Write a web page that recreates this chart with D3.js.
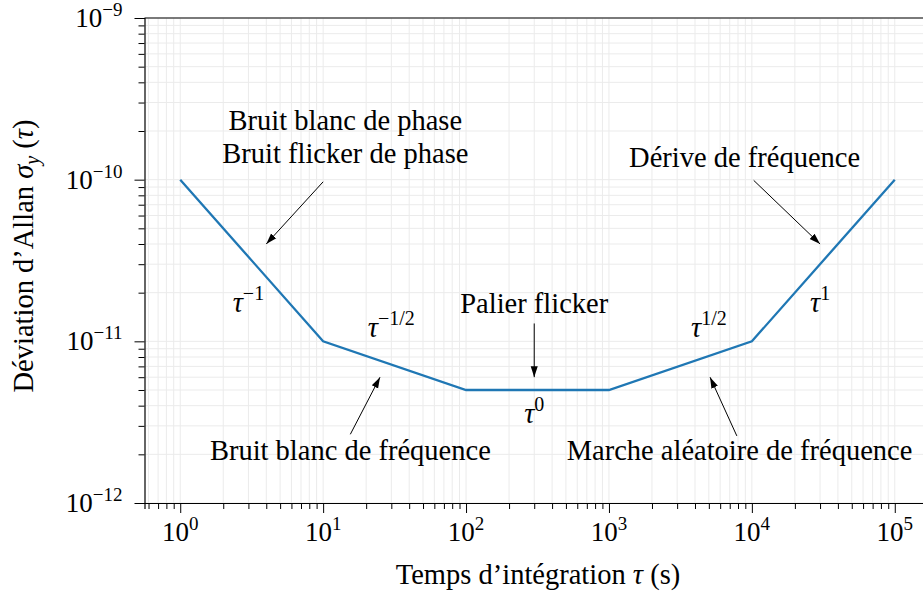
<!DOCTYPE html>
<html>
<head>
<meta charset="utf-8">
<script src="https://cdn.jsdelivr.net/npm/d3@7"></script>
<style>
  body { margin: 0; background: #fff; }
  svg { display: block; }
  svg text { font-family: "Liberation Serif", "Times New Roman", serif; fill: #000; }
  .grid line { stroke: #ebebeb; stroke-width: 1; }
  .txt { font-size: 28.5px; }
  .tick-lbl { font-size: 27px; }
</style>
</head>
<body>
<div id="chart"></div>
<script>
// Allan deviation, piecewise slopes
var tau = [1, 10, 100, 1000, 10000, 100000];
var sigma = [1e-10, 1e-11, 5e-12, 5e-12, 1e-11, 1e-10];

var xTicks = [1, 10, 100, 1000, 10000, 100000];
var xTickExp = ['0', '1', '2', '3', '4', '5'];
var yTicks = [1e-12, 1e-11, 1e-10, 1e-9];
var yTickExp = ['\u221212', '\u221211', '\u221210', '\u22129'];

// slope labels: [x, y, exponent]
var slopeLabels = [
  [3, 1.7e-11, '\u22121'],
  [30, 1.2e-11, '\u22121/2'],
  [300, 3.5e-12, '0'],
  [5000, 1.2e-11, '1/2'],
  [30000, 1.7e-11, '1']
];

// annotations: lines of text, text position, arrow tail, arrow head
var noteText = [
  ['Bruit blanc de phase', 'Bruit flicker de phase'],
  ['D\u00e9rive de fr\u00e9quence'],
  ['Palier flicker'],
  ['Bruit blanc de fr\u00e9quence'],
  ['Marche al\u00e9atoire de fr\u00e9quence']
];
var notePos = [[14.3, 1.82e-10], [8900, 1.37e-10], [300, 1.7e-11], [15.5, 2.1e-12], [8200, 2.1e-12]];
var arrowFrom = [[10, 9.7e-11], [10300, 9.9e-11], [300, 1.29e-11], [15.5, 2.66e-12], [7850, 2.6e-12]];
var arrowTo = [[4, 4e-11], [30000, 4e-11], [300, 6e-12], [25, 6e-12], [5100, 6e-12]];

var W = 923, H = 594;
var margin = {top: 18, left: 144.5};
var plotW = 786, plotH = 485;

var x = d3.scaleLog().domain([Math.pow(10, -0.25), Math.pow(10, 5.25)]).range([margin.left, margin.left + plotW]);
var y = d3.scaleLog().domain([1e-12, 1e-9]).range([margin.top + plotH, margin.top]);

var svg = d3.select('#chart').append('svg')
  .attr('width', W).attr('height', H);

var defs = svg.append('defs');
defs.append('marker')
  .attr('id', 'head')
  .attr('viewBox', '0 0 10 10')
  .attr('refX', 10).attr('refY', 5)
  .attr('markerWidth', 11).attr('markerHeight', 11)
  .attr('markerUnits', 'userSpaceOnUse')
  .attr('orient', 'auto')
  .append('path').attr('d', 'M0,1.8L10,5L0,8.2Z').attr('fill', '#000');

// minor + major ticks
var xAll = x.ticks();
var yAll = y.ticks();

var grid = svg.append('g').attr('class', 'grid');
grid.selectAll('.gx').data(xAll).enter().append('line')
  .attr('x1', function(d) { return x(d); }).attr('x2', function(d) { return x(d); })
  .attr('y1', margin.top).attr('y2', margin.top + plotH);
grid.selectAll('.gy').data(yAll).enter().append('line')
  .attr('x1', margin.left).attr('x2', margin.left + plotW)
  .attr('y1', function(d) { return y(d); }).attr('y2', function(d) { return y(d); });

// curve
var line = d3.line()
  .x(function(d, i) { return x(tau[i]); })
  .y(function(d) { return y(d); });
svg.append('path')
  .datum(sigma)
  .attr('d', line)
  .attr('fill', 'none')
  .attr('stroke', '#1f77b4')
  .attr('stroke-width', 2.3);

// axes
var isMajor = function(d) { return Math.abs(Math.log10(d) - Math.round(Math.log10(d))) < 1e-6; };

var xAxis = svg.append('g').attr('transform', 'translate(0,' + (margin.top + plotH) + ')')
  .call(d3.axisBottom(x).tickValues(xAll).tickSize(6).tickFormat(''));
xAxis.selectAll('.tick line').attr('y2', function(d) { return isMajor(d) ? 10 : 6; });
var yAxis = svg.append('g').attr('transform', 'translate(' + margin.left + ',0)')
  .call(d3.axisLeft(y).tickValues(yAll).tickSize(6).tickFormat(''));
yAxis.selectAll('.tick line').attr('x2', function(d) { return isMajor(d) ? -10 : -6; });
svg.selectAll('.domain').attr('stroke', '#000').attr('stroke-width', 1.2);
svg.selectAll('.tick line').attr('stroke', '#000').attr('stroke-width', 1);

svg.append('line')
  .attr('x1', margin.left).attr('x2', margin.left + plotW)
  .attr('y1', margin.top).attr('y2', margin.top)
  .attr('stroke', '#000').attr('stroke-width', 1.2);

// tick labels
xTicks.forEach(function(t, i) {
  var tx = svg.append('text').attr('class', 'tick-lbl')
    .attr('x', x(t)).attr('y', margin.top + plotH + 38)
    .attr('text-anchor', 'middle');
  tx.append('tspan').text('10');
  tx.append('tspan').attr('dy', -11).attr('font-size', 19).text(xTickExp[i]);
});
yTicks.forEach(function(t, i) {
  var ty = svg.append('text').attr('class', 'tick-lbl')
    .attr('x', margin.left - 22).attr('y', y(t) + 9)
    .attr('text-anchor', 'end');
  ty.append('tspan').text('10');
  ty.append('tspan').attr('dy', -11).attr('font-size', 19).text(yTickExp[i]);
});

// axis titles
var xl = svg.append('text').attr('class', 'txt')
  .attr('x', 538).attr('y', 584).attr('text-anchor', 'middle');
xl.append('tspan').text('Temps d\u2019int\u00e9gration ');
xl.append('tspan').attr('font-style', 'italic').text('\u03c4');
xl.append('tspan').text(' (s)');

var yl = svg.append('text').attr('class', 'txt')
  .attr('transform', 'translate(33,256) rotate(-90)')
  .attr('text-anchor', 'middle');
yl.append('tspan').text('D\u00e9viation d\u2019Allan ');
yl.append('tspan').attr('font-style', 'italic').text('\u03c3');
yl.append('tspan').attr('font-style', 'italic').attr('font-size', 20).attr('dy', 6).text('y');
yl.append('tspan').attr('dy', -6).text(' (');
yl.append('tspan').attr('font-style', 'italic').text('\u03c4');
yl.append('tspan').text(')');

// slope labels
slopeLabels.forEach(function(s) {
  var t = svg.append('text').attr('class', 'txt')
    .attr('x', x(s[0])).attr('y', y(s[1]) + 8)
    .attr('text-anchor', 'middle');
  t.append('tspan').attr('font-style', 'italic').text('\u03c4');
  t.append('tspan').attr('dy', -12).attr('font-size', 20).text(s[2]);
});

// annotations
noteText.forEach(function(lines, i) {
  var cy = y(notePos[i][1]);
  var n = lines.length;
  lines.forEach(function(l, j) {
    svg.append('text').attr('class', 'txt')
      .attr('x', x(notePos[i][0]))
      .attr('y', cy + 9 + (j - (n - 1) / 2) * 33)
      .attr('text-anchor', 'middle')
      .text(l);
  });
  svg.append('line')
    .attr('x1', x(arrowFrom[i][0])).attr('y1', y(arrowFrom[i][1]))
    .attr('x2', x(arrowTo[i][0])).attr('y2', y(arrowTo[i][1]))
    .attr('stroke', '#000').attr('stroke-width', 1)
    .attr('marker-end', 'url(#head)');
});
</script>
</body>
</html>
